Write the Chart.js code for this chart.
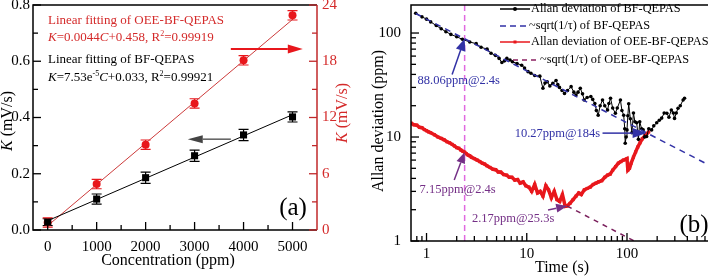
<!DOCTYPE html>
<html>
<head>
<meta charset="utf-8">
<script src="https://cdn.jsdelivr.net/npm/chart.js@4.4.0/dist/chart.umd.min.js"></script>
<style>
  html, body { margin: 0; padding: 0; background: #fff; overflow: hidden; }
  #wrapA { position: absolute; left: 0; top: 0; width: 360px; height: 277px; }
  #wrapB { position: absolute; left: 360px; top: 0; width: 352px; height: 277px; }
</style>
</head>
<body>
<div id="wrapA"><canvas id="chartA" width="360" height="277"></canvas></div>
<div id="wrapB"><canvas id="chartB" width="352" height="277"></canvas></div>
<script>
// ---- panel (a): calibration ----
var concentration = [0, 1000, 2000, 3000, 4000, 5000];
var kBF = [0.028, 0.110, 0.186, 0.264, 0.338, 0.402];
var kBFErr = [0.012, 0.018, 0.020, 0.020, 0.020, 0.018];
var kOEE = [0.8, 4.9, 9.1, 13.5, 18.1, 22.9];
var kOEEErr = [0.5, 0.5, 0.5, 0.5, 0.5, 0.5];
var fitConc = [0, 5000];
var fitBF = [0.033, 0.410];
var fitOEE = [0.458, 22.458];
var concTicks = [0, 500, 1000, 1500, 2000, 2500, 3000, 3500, 4000, 4500, 5000];
var kTicks = [0, 0.1, 0.2, 0.3, 0.4, 0.5, 0.6, 0.7, 0.8];
var k2Ticks = [0, 3, 6, 9, 12, 15, 18, 21, 24];

// ---- panel (b): Allan deviation ----
var tauBF = [0.78,0.9,1.0,1.1,1.25,1.4,1.56,1.75,2.0,2.28,2.7,3.13,3.5,4.02,4.4,4.86,5.3,5.65,6.0,6.33,
  6.8,7.19,8.0,8.9,9.5,10.3,11.0,12.0,13.5,14.5,15.2,16.0,17.0,18.2,19.6,20.4,21.2,22.5,23.8,25.5,
  27.7,29.5,31.0,32.5,34.2,36,37.4,40,43.6,45.5,47.8,49.5,51.6,54,57,60,64,66,68.5,72,
  76.6,80,86,89,92.7,95,96,98,100,102,104,108,112,116,120,125,130,134,140,145,
  150,157,165,176,185,198,210,222,235,250,262,277,290,298,310,323,340,363,375];
var allanBF = [155,143,136,128,118,110,103,97,92,87,82,79,73,70,64,61,57,52,54,57,
  55,53,51,49,46,42.5,41,39,38.5,29.4,33,34,31,32.8,35,32,30,28,26.2,28,
  30.5,27,25.3,27,29.4,26,22.7,24,24.5,23,21,18,16.2,20,22.7,20,18.2,21,23.6,19,
  16.9,19,22.7,18,16.2,12,8.7,10,11.7,16,20.9,15,11,17,14,13.7,9.5,14,12,11.7,
  10,10.1,12,11.7,12.8,13.7,14.5,15.2,17,16.9,15.5,18.2,17,15.1,17,18.9,20,22.7,23.6];
var tauOEE = [0.7,0.75,0.8,0.85,0.9,0.95,1.0,1.05,1.1,1.2,1.3,1.4,1.5,1.6,1.7,1.8,1.9,
  2.0,2.1,2.2,2.3,2.4,2.5,2.6,2.7,2.8,3.0,3.2,3.4,3.6,3.8,4.0,4.3,4.6,4.9,5.2,5.5,5.9,
  6.3,6.7,7.1,7.6,8.1,8.6,9.2,9.8,10.5,11.2,12.0,12.8,13.6,14.5,15.5,16.5,17.6,18.8,
  20.0,21.3,22.7,24.2,25.3,27,29,31,33,35,37.5,40,43,46,49,52,56,60,64,68,72,77,
  82,87,92,97,100,102,106,110,116,122,128,135,142,150,158,165];
var allanOEE = [13.6,13.1,13.0,12.4,12.3,11.8,11.5,11.2,11.0,10.5,10.0,9.7,9.4,9.0,8.8,8.5,8.2,
  7.9,7.8,7.5,7.3,7.15,6.9,6.7,6.6,6.4,6.2,6.0,5.8,5.6,5.5,5.3,5.1,4.9,4.85,4.6,4.6,4.35,
  4.3,4.1,4.1,3.85,3.9,3.6,3.7,3.4,3.3,3.0,3.5,2.9,3.0,2.7,3.4,3.1,2.6,3.0,
  2.5,2.4,2.8,2.15,2.17,2.3,2.5,2.7,2.9,2.8,3.1,3.2,3.3,3.5,3.6,3.7,3.8,4.1,4.3,4.4,4.8,5.2,
  5.6,5.8,6.0,6.1,6.2,4.8,5.0,5.6,6.4,7.2,8.0,8.8,9.6,10.2,10.8,11.2];
var slopeTauBF = [0.78, 650];
var slopeBF = [154, 5.4];
var slopeTauOEE = [25.3, 118];
var slopeOEE = [2.17, 1.0];
var markTau = [2.4, 2.4];
var markAllan = [1, 190];
var timeTicks = [0.8,0.9,1,2,3,4,5,6,7,8,9,10,20,30,40,50,60,70,80,90,100,200,300,400,500,600];
var allanTicks = [1,2,3,4,5,6,7,8,9,10,20,30,40,50,60,70,80,90,100];

var SERIF = '"Liberation Serif", "Times New Roman", serif';
var RED = '#e8171c';
var RED_TXT = '#d42a2a';
var BLUE = '#3232a6';
var PURPLE = '#742f86';

function pts(xs, ys) {
  return xs.map(function (x, i) { return { x: x, y: ys[i] }; });
}

function fontFor(style, size) {
  if (style === 'i') return 'italic ' + size + 'px ' + SERIF;
  if (style === 'sup') return Math.round(size * 0.65) + 'px ' + SERIF;
  return size + 'px ' + SERIF;
}

// draw text made of pieces (normal / italic / superscript)
function drawRich(ctx, parts, x, y, size, color, align) {
  var w = 0;
  parts.forEach(function (p) { ctx.font = fontFor(p[1], size); w += ctx.measureText(p[0]).width; });
  var cx = x;
  if (align === 'center') cx = x - w / 2;
  if (align === 'right') cx = x - w;
  ctx.fillStyle = color;
  ctx.textBaseline = 'middle';
  ctx.textAlign = 'left';
  parts.forEach(function (p) {
    ctx.font = fontFor(p[1], size);
    var dy = p[1] === 'sup' ? -size * 0.35 : 0;
    ctx.fillText(p[0], cx, y + dy);
    cx += ctx.measureText(p[0]).width;
  });
}

function drawRotated(ctx, parts, x, y, size, color) {
  ctx.save();
  ctx.translate(x, y);
  ctx.rotate(-Math.PI / 2);
  drawRich(ctx, parts, 0, 0, size, color, 'center');
  ctx.restore();
}

function drawArrow(ctx, x1, y1, x2, y2, color, lw, headLen, headW) {
  var ang = Math.atan2(y2 - y1, x2 - x1);
  var bx = x2 - headLen * Math.cos(ang), by = y2 - headLen * Math.sin(ang);
  ctx.save();
  ctx.strokeStyle = color;
  ctx.fillStyle = color;
  ctx.lineWidth = lw;
  ctx.beginPath();
  ctx.moveTo(x1, y1);
  ctx.lineTo(bx, by);
  ctx.stroke();
  ctx.beginPath();
  ctx.moveTo(x2, y2);
  ctx.lineTo(bx + headW * Math.sin(ang), by - headW * Math.cos(ang));
  ctx.lineTo(bx - headW * Math.sin(ang), by + headW * Math.cos(ang));
  ctx.closePath();
  ctx.fill();
  ctx.restore();
}

// inward tick marks
function drawTicks(chart, id, side, color, isMajor) {
  var s = chart.scales[id], a = chart.chartArea, ctx = chart.ctx;
  ctx.save();
  ctx.strokeStyle = color;
  ctx.lineWidth = 1.3;
  s.ticks.forEach(function (t) {
    var len = isMajor(t.value) ? 8 : 5;
    var p = s.getPixelForValue(t.value);
    ctx.beginPath();
    if (side === 'left') { ctx.moveTo(a.left, p); ctx.lineTo(a.left + len, p); }
    if (side === 'right') { ctx.moveTo(a.right, p); ctx.lineTo(a.right - len, p); }
    if (side === 'bottom') { ctx.moveTo(p, a.bottom); ctx.lineTo(p, a.bottom - len); }
    ctx.stroke();
  });
  ctx.restore();
}

function fixedBox(size, isWidth) {
  return function (s) {
    if (isWidth) s.width = size; else s.height = size;
    s.paddingTop = 0; s.paddingBottom = 0; s.paddingLeft = 0; s.paddingRight = 0;
  };
}

function setTicks(list) {
  return function (s) { s.ticks = list.map(function (v) { return { value: v }; }); };
}

function isDecade(v) {
  var l = Math.log10(v);
  return Math.abs(l - Math.round(l)) < 1e-6;
}

// ---------------- chart (a) ----------------
var panelA = {
  id: 'panelA',
  beforeDatasetsDraw: function (chart) {
    var ctx = chart.ctx, x = chart.scales.x;
    function bars(vals, errs, ys, color) {
      ctx.save();
      ctx.strokeStyle = color;
      ctx.lineWidth = 1.2;
      concentration.forEach(function (c, i) {
        var px = x.getPixelForValue(c);
        var top = ys.getPixelForValue(vals[i] + errs[i]);
        var bot = ys.getPixelForValue(vals[i] - errs[i]);
        ctx.beginPath();
        ctx.moveTo(px, top); ctx.lineTo(px, bot);
        ctx.moveTo(px - 5, top); ctx.lineTo(px + 5, top);
        ctx.moveTo(px - 5, bot); ctx.lineTo(px + 5, bot);
        ctx.stroke();
      });
      ctx.restore();
    }
    bars(kBF, kBFErr, chart.scales.y, '#000');
    bars(kOEE, kOEEErr, chart.scales.y2, RED);
  },
  afterDraw: function (chart) {
    var ctx = chart.ctx, a = chart.chartArea;
    var x = chart.scales.x, y = chart.scales.y, y2 = chart.scales.y2;
    // frame
    ctx.save();
    ctx.lineWidth = 1.5;
    ctx.strokeStyle = '#000';
    ctx.beginPath();
    ctx.moveTo(a.right, a.top); ctx.lineTo(a.left, a.top); ctx.lineTo(a.left, a.bottom); ctx.lineTo(a.right, a.bottom);
    ctx.stroke();
    ctx.strokeStyle = '#c0282a';
    ctx.beginPath();
    ctx.moveTo(a.right, a.top); ctx.lineTo(a.right, a.bottom);
    ctx.stroke();
    ctx.restore();
    drawTicks(chart, 'x', 'bottom', '#000', function (v) { return v % 1000 === 0; });
    drawTicks(chart, 'y', 'left', '#000', function (v) { return Math.round(v * 10) % 2 === 0; });
    drawTicks(chart, 'y2', 'right', '#c0282a', function (v) { return v % 6 === 0; });

    // arrows
    drawArrow(ctx, x.getPixelForValue(3740), y.getPixelForValue(0.323),
      x.getPixelForValue(2860), y.getPixelForValue(0.323), '#444', 1.3, 15, 4);
    drawArrow(ctx, x.getPixelForValue(3740), y2.getPixelForValue(19.3),
      x.getPixelForValue(5210), y2.getPixelForValue(19.3), RED, 2, 15, 4.5);

    // fit annotations
    var lx = a.left + 15;
    drawRich(ctx, [['Linear fitting of OEE-BF-QEPAS', '']], lx, 21, 13, RED_TXT, 'left');
    drawRich(ctx, [['K', 'i'], ['=0.0044', ''], ['C', 'i'], ['+0.458, R', ''], ['2', 'sup'], ['=0.99919', '']], lx, 38, 13, RED_TXT, 'left');
    drawRich(ctx, [['Linear fitting of BF-QEPAS', '']], lx, 60, 13, '#000', 'left');
    drawRich(ctx, [['K', 'i'], ['=7.53e', ''], ['-5', 'sup'], ['C', 'i'], ['+0.033, R', ''], ['2', 'sup'], ['=0.99921', '']], lx, 78, 13, '#000', 'left');
    drawRich(ctx, [['(a)', '']], a.right - 24, 208, 25, '#000', 'center');

    // axis titles
    drawRotated(ctx, [['K', 'i'], [' (mV/s)', '']], 8, 121, 16, '#000');
    drawRotated(ctx, [['K', 'i'], [' (mV/s)', '']], 343, 113, 16, RED_TXT);
    drawRich(ctx, [['Concentration (ppm)', '']], 168, 261, 16, '#000', 'center');
  }
};

new Chart(document.getElementById('chartA'), {
  type: 'line',
  data: {
    datasets: [
      { data: pts(concentration, kBF), yAxisID: 'y', showLine: false, pointStyle: 'rect', pointRadius: 5,
        backgroundColor: '#000', borderColor: '#000', borderWidth: 0 },
      { data: pts(concentration, kOEE), yAxisID: 'y2', showLine: false, pointStyle: 'circle', pointRadius: 4,
        backgroundColor: RED, borderColor: RED, borderWidth: 0 },
      { data: pts(fitConc, fitBF), yAxisID: 'y', borderColor: '#000', borderWidth: 1, pointRadius: 0 },
      { data: pts(fitConc, fitOEE), yAxisID: 'y2', borderColor: '#cc3a3a', borderWidth: 1, pointRadius: 0 }
    ]
  },
  options: {
    responsive: false,
    animation: false,
    events: [],
    layout: { padding: { top: 5, left: 0, right: 0, bottom: 0 } },
    plugins: { legend: { display: false }, tooltip: { enabled: false } },
    scales: {
      x: {
        type: 'linear', min: -300, max: 5500,
        afterBuildTicks: setTicks(concTicks),
        afterFit: fixedBox(47, false),
        grid: { display: false, drawTicks: false, tickLength: 0 },
        border: { display: false },
        ticks: {
          autoSkip: false, maxRotation: 0, padding: 8, color: '#000',
          font: { family: SERIF, size: 15 },
          callback: function (v) { return v % 1000 === 0 ? String(v) : ''; }
        }
      },
      y: {
        position: 'left', min: 0, max: 0.8,
        afterBuildTicks: setTicks(kTicks),
        afterFit: fixedBox(33, true),
        grid: { display: false, drawTicks: false, tickLength: 0 },
        border: { display: false },
        ticks: {
          autoSkip: false, padding: 3, color: '#000',
          font: { family: SERIF, size: 15 },
          callback: function (v) { return Math.round(v * 10) % 2 === 0 ? v.toFixed(1) : ''; }
        }
      },
      y2: {
        position: 'right', min: 0, max: 24,
        afterBuildTicks: setTicks(k2Ticks),
        afterFit: fixedBox(43, true),
        grid: { display: false, drawTicks: false, tickLength: 0 },
        border: { display: false },
        ticks: {
          autoSkip: false, padding: 5, color: RED_TXT,
          font: { family: SERIF, size: 15 },
          callback: function (v) { return v % 6 === 0 ? String(v) : ''; }
        }
      }
    }
  },
  plugins: [panelA]
});

// ---------------- chart (b) ----------------
var panelB = {
  id: 'panelB',
  afterDraw: function (chart) {
    var ctx = chart.ctx, a = chart.chartArea;
    var x = chart.scales.x, y = chart.scales.y;
    function px(t) { return x.getPixelForValue(t); }
    function py(v) { return y.getPixelForValue(v); }

    ctx.save();
    ctx.lineWidth = 1.5;
    ctx.strokeStyle = '#000';
    ctx.beginPath();
    ctx.moveTo(a.right, a.top); ctx.lineTo(a.left, a.top); ctx.lineTo(a.left, a.bottom); ctx.lineTo(a.right, a.bottom);
    ctx.stroke();
    ctx.restore();
    drawTicks(chart, 'x', 'bottom', '#000', isDecade);
    drawTicks(chart, 'y', 'left', '#000', isDecade);

    // annotations
    drawArrow(ctx, px(1.8), py(40), px(2.4), py(88.06), BLUE, 1.5, 12, 5);
    drawRich(ctx, [['88.06ppm@2.4s', '']], px(0.815), py(34.5), 12.5, BLUE, 'left');
    drawArrow(ctx, px(57), py(10.9), px(157), py(10.9), BLUE, 1.5, 14, 5);
    drawRich(ctx, [['10.27ppm@184s', '']], px(54), py(10.7), 12.5, BLUE, 'right');
    drawArrow(ctx, px(1.89), py(3.86), px(2.4), py(7.15), PURPLE, 1.5, 11, 4.5);
    drawRich(ctx, [['7.15ppm@2.4s', '']], px(0.853), py(3.09), 12.5, PURPLE, 'left');
    drawArrow(ctx, px(16.3), py(1.99), px(25.3), py(2.17), PURPLE, 1.5, 11, 4.5);
    drawRich(ctx, [['2.17ppm@25.3s', '']], px(2.84), py(1.63), 12.5, PURPLE, 'left');
    drawRich(ctx, [['(b)', '']], 334, 225, 25, '#000', 'center');

    // legend
    var rows = [
      { y: 9, x1: 140, x2: 170, tx: 171, color: '#000', dash: [], mark: 'dot', text: 'Allan deviation of BF-QEPAS' },
      { y: 26, x1: 140, x2: 166, tx: 169, color: BLUE, dash: [6, 4], mark: '', text: '~sqrt(1/\u03c4) of BF-QEPAS' },
      { y: 42, x1: 140, x2: 170, tx: 171, color: RED, dash: [], mark: 'sq', text: 'Allan deviation of OEE-BF-QEPAS' },
      { y: 60, x1: 153, x2: 177, tx: 180, color: '#8a2060', dash: [5, 4], mark: '', text: '~sqrt(1/\u03c4) of OEE-BF-QEPAS' }
    ];
    rows.forEach(function (r) {
      ctx.save();
      ctx.strokeStyle = r.color;
      ctx.fillStyle = r.color;
      ctx.lineWidth = 1.5;
      ctx.setLineDash(r.dash);
      ctx.beginPath();
      ctx.moveTo(r.x1, r.y); ctx.lineTo(r.x2, r.y);
      ctx.stroke();
      var mx = (r.x1 + r.x2) / 2;
      if (r.mark === 'dot') { ctx.beginPath(); ctx.arc(mx, r.y, 2, 0, Math.PI * 2); ctx.fill(); }
      if (r.mark === 'sq') { ctx.fillRect(mx - 1.5, r.y - 1.5, 3, 3); }
      ctx.restore();
      drawRich(ctx, [[r.text, '']], r.tx, r.y, 12.3, '#000', 'left');
    });

    // axis titles
    drawRotated(ctx, [['Allan deviation (ppm)', '']], 19, 121, 16, '#000');
    drawRich(ctx, [['Time (s)', '']], 202, 268, 16, '#000', 'center');
  }
};

new Chart(document.getElementById('chartB'), {
  type: 'line',
  data: {
    datasets: [
      { data: pts(slopeTauBF, slopeBF), borderColor: BLUE, borderWidth: 1.5, borderDash: [6, 5], pointRadius: 0 },
      { data: pts(slopeTauOEE, slopeOEE), borderColor: '#7a1f5c', borderWidth: 1.5, borderDash: [5, 5], pointRadius: 0 },
      { data: pts(tauBF, allanBF), borderColor: '#000', borderWidth: 1, pointRadius: 1.8, pointStyle: 'circle',
        backgroundColor: '#000', pointBorderWidth: 0 },
      { data: pts(tauOEE, allanOEE), borderColor: RED, borderWidth: 3.5, pointRadius: 2.2, pointStyle: 'rect',
        backgroundColor: RED, pointBorderWidth: 0 },
      { data: pts(markTau, markAllan), borderColor: '#e06ae0', borderWidth: 1.5, borderDash: [6, 4], pointRadius: 0 }
    ]
  },
  options: {
    responsive: false,
    animation: false,
    events: [],
    layout: { padding: { top: 5, left: 0, right: 0, bottom: 0 } },
    plugins: { legend: { display: false }, tooltip: { enabled: false } },
    scales: {
      x: {
        type: 'logarithmic', min: 0.7, max: 643,
        afterBuildTicks: setTicks(timeTicks),
        afterFit: fixedBox(36, false),
        grid: { display: false, drawTicks: false, tickLength: 0 },
        border: { display: false },
        ticks: {
          autoSkip: false, maxRotation: 0, padding: 4, color: '#000',
          font: { family: SERIF, size: 15 },
          callback: function (v) { return isDecade(v) ? String(v) : ''; }
        }
      },
      y: {
        type: 'logarithmic', min: 1, max: 186,
        afterBuildTicks: setTicks(allanTicks),
        afterFit: fixedBox(51, true),
        grid: { display: false, drawTicks: false, tickLength: 0 },
        border: { display: false },
        ticks: {
          autoSkip: false, padding: 10, color: '#000',
          font: { family: SERIF, size: 15 },
          callback: function (v) { return isDecade(v) ? String(v) : ''; }
        }
      }
    }
  },
  plugins: [panelB]
});
</script>
</body>
</html>
